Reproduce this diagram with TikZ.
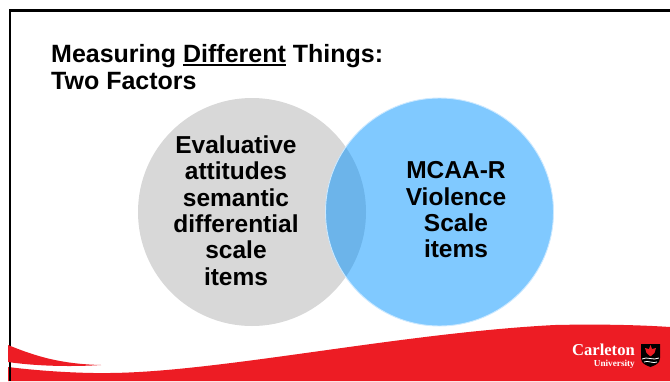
\documentclass[tikz,border=0pt]{standalone}
\usepackage{fontspec}
\setmainfont{Liberation Sans}
\newfontfamily\logofont{Liberation Serif}
\definecolor{cured}{HTML}{ED1C24}
\definecolor{cgray}{HTML}{D8D8D8}
\definecolor{cblue}{HTML}{80C9FF}
\definecolor{coverlap}{HTML}{6CB4EA}
\newcommand{\thickul}[1]{\vtop{\hbox{#1}\kern1.7pt\hrule height 1.9pt}}
\tikzset{
  circtext/.style={font=\bfseries\fontsize{24.5}{26.3}\selectfont,align=center,text=black},
  titletext/.style={font=\bfseries\fontsize{25}{27}\selectfont,align=left,anchor=north west,text=black,inner sep=0pt},
}
\begin{document}
\begin{tikzpicture}[x=1pt,y=-1pt]
\useasboundingbox (0,0) rectangle (670,381);
\fill[white] (0,0) rectangle (670,381);
% frame
\draw[black,line width=2.4pt] (670,10.6) -- (10,10.6) -- (10,381);
% circles
\fill[cgray] (252,212) circle[radius=114];
\fill[cblue] (439.5,212) circle[radius=114];
\begin{scope}
  \clip (252,212) circle[radius=114];
  \fill[coverlap] (439.5,212) circle[radius=114];
\end{scope}
\draw[white!60!cblue,line width=0.9pt] (439.5,212) circle[radius=114];
% swoosh
\fill[cured] (8,345) .. controls (35,356) and (60,364) .. (101,365) .. controls (70,367) and (35,366) .. (8,362) -- cycle;
\fill[cured] (8,367) .. controls (40,371) and (80,373.5) .. (110,373) .. controls (220,372) and (400,333) .. (555,325) .. controls (600,324) and (640,325) .. (670,327) -- (670,381) -- (8,381) -- cycle;
\draw[black,line width=2.4pt] (10,367) -- (10,381);
% title
\node[titletext] (title) at (51,44) {Measuring \thickul{Different} Things:\\Two Factors};
% labels
\node[circtext] (left) at (236,210.5) {Evaluative\\attitudes\\semantic\\differential\\scale\\items};
\node[circtext] (right) at (456,210) {MCAA-R\\Violence\\Scale\\items};
% logo
\node[text=white,font=\logofont\bfseries\fontsize{16.6}{16.6}\selectfont,inner sep=0pt,anchor=base east] (carleton) at (635,355.5) {Carleton};
\node[text=white,font=\logofont\bfseries\fontsize{9.2}{9.2}\selectfont,inner sep=0pt,anchor=base east] (univ) at (635,366) {University};
\fill[black] (641,344) -- (660,344) -- (660,358) .. controls (660,364) and (655,365) .. (650.5,367) .. controls (646,365) and (641,364) .. (641,358) -- cycle;
\fill[cured] (650.5,345) -- (652,349) -- (656,348) -- (654.5,353) -- (651,356) -- (650,356) -- (646.5,353) -- (645,348) -- (649,349) -- cycle;
\draw[white,line width=0.8pt] (642,359) .. controls (647,356) and (653,361) .. (659,358);
\draw[white,line width=0.8pt] (644,362) .. controls (648,360) and (653,364) .. (657,362);
\end{tikzpicture}
\end{document}
